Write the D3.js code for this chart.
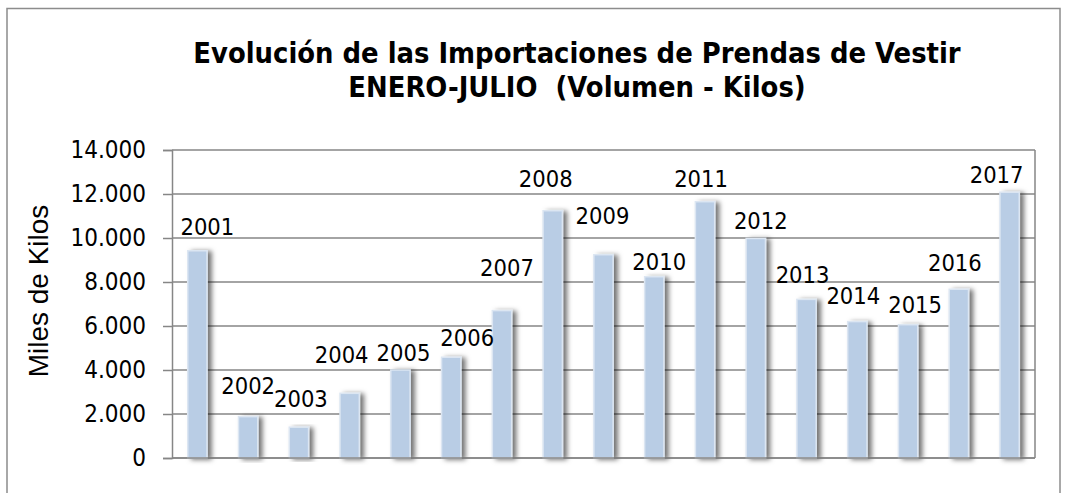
<!DOCTYPE html>
<html>
<head>
<meta charset="utf-8">
<script src="https://cdn.jsdelivr.net/npm/d3@7"></script>
<style>
  html, body { margin: 0; padding: 0; background: #fff; }
  svg { display: block; }
  text { white-space: pre; }
</style>
</head>
<body>
<div id="chart"></div>
<script>
const years = ['2001', '2002', '2003', '2004', '2005', '2006', '2007', '2008', '2009',
  '2010', '2011', '2012', '2013', '2014', '2015', '2016', '2017'];
const kilos = [9420, 1880, 1400, 2940, 4000, 4580, 6700, 11240, 9240,
  8240, 11650, 9980, 7210, 6200, 6060, 7670, 12080];
const yTicks = [0, 2000, 4000, 6000, 8000, 10000, 12000, 14000];
const titleLines = ['Evolución de las Importaciones de Prendas de Vestir', 'ENERO-JULIO  (Volumen - Kilos)'];
const yTitle = 'Miles de Kilos';

// hand-placed data labels in the original: [dx, dy] from the bar top
const labelNudge = [[10, -24], [0, -31], [2, -29], [-8, -39], [3, -17], [16, -20], [5, -43],
  [-7, -32], [-1, -39], [5, -15], [-4, -23], [5, -18], [-4, -25], [-4, -26], [7, -20],
  [-4, -27], [-13, -18]];

const width = 1067, height = 493;
const margin = { top: 150, right: 32, bottom: 35, left: 172 };
const fmt = d3.format(',.0f');
const tickFmt = v => fmt(v).replace(/,/g, '.');
const font = '"DejaVu Sans Condensed", "DejaVu Sans", sans-serif';
const gridColor = '#868686';

const svg = d3.select('#chart').append('svg')
  .attr('width', width)
  .attr('height', height);

const defs = svg.append('defs');
const shadow = defs.append('filter')
  .attr('id', 'shadow')
  .attr('x', '-50%').attr('y', '-10%')
  .attr('width', '220%').attr('height', '120%');
shadow.append('feDropShadow')
  .attr('dx', 4).attr('dy', 1)
  .attr('stdDeviation', 2.6)
  .attr('flood-color', '#000')
  .attr('flood-opacity', 0.55);

// outer chart frame
svg.append('rect')
  .attr('x', 7).attr('y', 8.5)
  .attr('width', 1053).attr('height', 520)
  .attr('fill', 'none')
  .attr('stroke', '#8c8c8c')
  .attr('stroke-width', 1.5);

svg.append('g')
  .selectAll('text')
  .data(titleLines)
  .join('text')
  .attr('x', 577)
  .attr('y', (d, i) => 63 + i * 34)
  .attr('text-anchor', 'middle')
  .attr('font-family', font)
  .attr('font-weight', 'bold')
  .attr('font-size', 28.8)
  .attr('fill', '#000')
  .text(d => d);

const x = d3.scaleBand()
  .domain(years)
  .range([margin.left, width - margin.right])
  .paddingInner(0.62)
  .paddingOuter(0.31);

const y = d3.scaleLinear()
  .domain([0, 14000])
  .range([height - margin.bottom, margin.top]);

// gridlines
svg.append('g')
  .selectAll('line')
  .data(yTicks)
  .join('line')
  .attr('x1', margin.left)
  .attr('x2', width - margin.right)
  .attr('y1', d => y(d))
  .attr('y2', d => y(d))
  .attr('stroke', gridColor)
  .attr('stroke-width', 1.5);

// right border of plot area
svg.append('line')
  .attr('x1', width - margin.right).attr('x2', width - margin.right)
  .attr('y1', y(14000)).attr('y2', y(0))
  .attr('stroke', gridColor)
  .attr('stroke-width', 1.5);

// bars
svg.append('g')
  .selectAll('rect')
  .data(kilos)
  .join('rect')
  .attr('x', (d, i) => x(years[i]))
  .attr('y', d => y(d))
  .attr('width', x.bandwidth())
  .attr('height', d => y(0) - y(d))
  .attr('fill', '#b9cde5')
  .attr('stroke', '#dce6f2')
  .attr('stroke-width', 1.5)
  .attr('filter', 'url(#shadow)');

// y axis
const yAxis = svg.append('g')
  .attr('transform', `translate(${margin.left},0)`)
  .call(d3.axisLeft(y).tickValues(yTicks).tickFormat(tickFmt).tickSizeOuter(0).tickSize(9).tickPadding(17));
yAxis.select('.domain').attr('stroke', gridColor).attr('stroke-width', 1.5);
yAxis.selectAll('.tick line').attr('stroke', gridColor).attr('stroke-width', 1.5);
yAxis.selectAll('.tick text')
  .attr('font-family', font)
  .attr('font-size', 24)
  .attr('fill', '#000');

// baseline
svg.append('line')
  .attr('x1', margin.left).attr('x2', width - margin.right)
  .attr('y1', y(0)).attr('y2', y(0))
  .attr('stroke', gridColor)
  .attr('stroke-width', 1.5);

svg.append('text')
  .attr('transform', `translate(48,291) rotate(-90)`)
  .attr('text-anchor', 'middle')
  .attr('font-family', '"Liberation Sans", Arial, sans-serif')
  .attr('font-size', 28)
  .attr('fill', '#000')
  .text(yTitle);

// data labels (the year names)
svg.append('g')
  .selectAll('text')
  .data(kilos)
  .join('text')
  .attr('x', (d, i) => x(years[i]) + x.bandwidth() / 2 + labelNudge[i][0])
  .attr('y', (d, i) => y(d) + labelNudge[i][1])
  .attr('dy', '0.36em')
  .attr('text-anchor', 'middle')
  .attr('font-family', font)
  .attr('font-size', 23.5)
  .attr('fill', '#000')
  .text((d, i) => years[i]);
</script>
</body>
</html>
